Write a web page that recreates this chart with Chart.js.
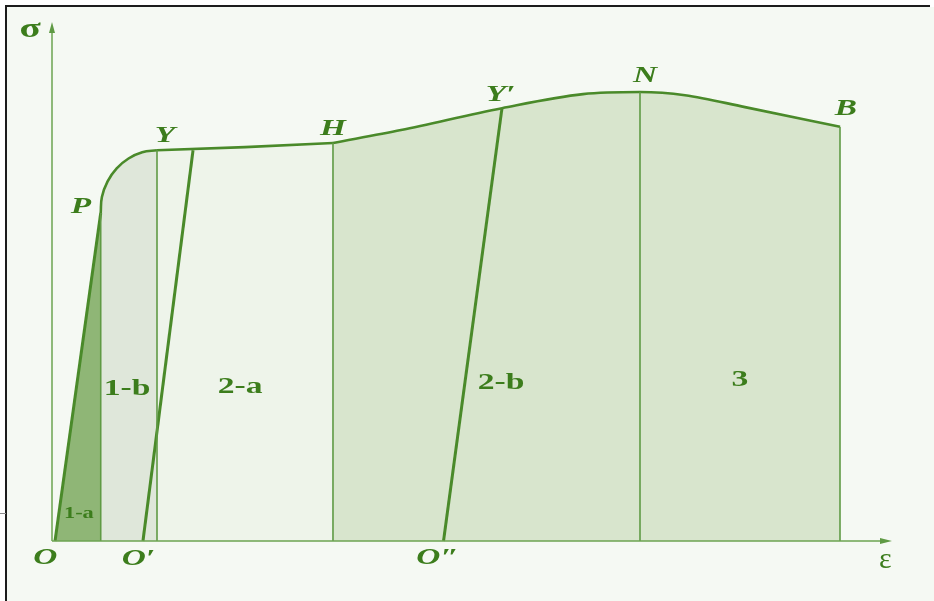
<!DOCTYPE html>
<html>
<head>
<meta charset="utf-8">
<script src="https://cdn.jsdelivr.net/npm/chart.js@4.4.0/dist/chart.umd.min.js"></script>
<style>
  html, body { margin: 0; padding: 0; background: #fff; }
  #wrap { width: 934px; height: 601px; }
</style>
</head>
<body>
<div id="wrap"><canvas id="chart" width="934" height="601"></canvas></div>
<script>
// Stress–strain diagram (σ vs ε), arbitrary units: ε 0..100, σ 0..100

// elastic part O → P
const elasticEps = [0.36, 5.8];
const elasticSig = [0, 63.2];
// P → Y (yielding knee)
const kneeEps = [5.8, 5.94, 6.62, 7.7, 9.11, 10.74, 12.5];
const kneeSig = [63.2, 66.3, 69.3, 71.8, 73.7, 74.9, 75.3];
// Y → H (plateau)
const plateauEps = [12.5, 22.98, 33.45];
const plateauSig = [75.3, 75.9, 76.7];
// H → Y' → N → B (hardening + necking)
const hardenEps = [33.45, 41.55, 53.57, 63.21, 70.0, 75.36, 82.5, 93.81];
const hardenSig = [76.7, 79.2, 83.4, 86.1, 86.5, 85.9, 83.6, 79.8];
// unloading lines O' and O''
const unload1Eps = [10.83, 16.79];
const unload1Sig = [0, 75.3];
const unload2Eps = [46.61, 53.57];
const unload2Sig = [0, 83.4];
// vertical separators at P, Y, H, N, B
const dividerEps = [5.8, 12.5, 33.45, 70.0, 93.81];
const dividerSig = [63.2, 75.3, 76.7, 86.5, 79.8];

const GREEN = '#4a8a2a';
const TEXT = '#3c7d1c';

const pts = (xs, ys) => xs.map((x, i) => ({ x, y: ys[i] }));

// [text, ε, σ, kind]
const labels = [
  ['σ', -2.6, 98.6, 'sym'],
  ['ε', 99.2, -3.7, 'eps'],
  ['O', -0.8, -3.3, 'pt'],
  ["O\u2032", 10.3, -3.4, 'pt'],
  ["O\u2033", 45.9, -3.3, 'pt'],
  ['P', 3.45, 64.4, 'pt'],
  ['Y', 13.45, 78.0, 'pt'],
  ['H', 33.45, 79.4, 'pt'],
  ["Y\u2032", 53.4, 85.9, 'pt'],
  ['N', 70.6, 89.6, 'pt'],
  ['B', 94.5, 83.2, 'pt'],
  ['1-a', 3.2, 5.2, 'small'],
  ['1-b', 8.93, 29.3, 'zone'],
  ['2-a', 22.4, 29.7, 'zone'],
  ['2-b', 53.45, 30.4, 'zone'],
  ['3', 81.9, 31.0, 'zone'],
];

const fonts = {
  sym:   { font: 'bold 28px "Liberation Serif"', sx: 1.4 },
  eps:   { font: '30px "Liberation Serif"', sx: 1.0 },
  pt:    { font: 'italic bold 23px "Liberation Serif"', sx: 1.45 },
  small: { font: 'bold 16px "Liberation Serif"', sx: 1.4 },
  zone:  { font: 'bold 24px "Liberation Serif"', sx: 1.4 },
};

const framePlugin = {
  id: 'frame',
  beforeDraw(chart) {
    const c = chart.ctx;
    c.save();
    c.fillStyle = '#ffffff';
    c.fillRect(0, 0, chart.width, chart.height);
    c.fillStyle = '#f5f9f3';
    c.fillRect(7, 7, chart.width - 7, chart.height - 7);
    c.strokeStyle = '#1c1c1c';
    c.lineWidth = 2;
    c.beginPath();
    c.moveTo(6, chart.height);
    c.lineTo(6, 6);
    c.lineTo(930, 6);
    c.stroke();
    c.strokeStyle = '#8a8a8a';
    c.lineWidth = 1;
    c.beginPath();
    c.moveTo(0, 513.5);
    c.lineTo(6, 513.5);
    c.stroke();
    c.restore();
  },
};

const axisPlugin = {
  id: 'axes',
  afterDatasetsDraw(chart) {
    const c = chart.ctx, xs = chart.scales.x, ys = chart.scales.y;
    const x0 = xs.getPixelForValue(0), y0 = ys.getPixelForValue(0);
    const xEnd = xs.getPixelForValue(100), yEnd = ys.getPixelForValue(100);
    c.save();
    c.strokeStyle = '#6ca452';
    c.fillStyle = '#5f9a44';
    c.lineWidth = 1.5;
    c.beginPath();
    c.moveTo(x0, y0);
    c.lineTo(xEnd - 4, y0);
    c.moveTo(x0, y0);
    c.lineTo(x0, yEnd + 6);
    c.stroke();
    // arrow heads
    c.beginPath();
    c.moveTo(xEnd, y0);
    c.lineTo(xEnd - 12, y0 - 3);
    c.lineTo(xEnd - 12, y0 + 3);
    c.closePath();
    c.fill();
    c.beginPath();
    c.moveTo(x0, yEnd);
    c.lineTo(x0 - 3, yEnd + 11);
    c.lineTo(x0 + 3, yEnd + 11);
    c.closePath();
    c.fill();
    c.restore();
  },
};

const labelPlugin = {
  id: 'labels',
  afterDraw(chart) {
    const c = chart.ctx, xs = chart.scales.x, ys = chart.scales.y;
    c.save();
    c.textAlign = 'center';
    c.textBaseline = 'middle';
    c.fillStyle = TEXT;
    labels.forEach(([t, e, s, kind]) => {
      const f = fonts[kind];
      c.save();
      c.translate(xs.getPixelForValue(e), ys.getPixelForValue(s));
      c.scale(f.sx, 1);
      c.font = f.font;
      c.fillText(t, 0, 0);
      c.restore();
    });
    c.restore();
  },
};

const fillSet = (xs, ys, color, tension, mode) => ({
  data: pts(xs, ys),
  fill: 'origin',
  backgroundColor: color,
  borderWidth: 0,
  pointRadius: 0,
  cubicInterpolationMode: mode || 'default',
  tension: tension || 0,
  order: 10,
  clip: false,
});

const lineSet = (xs, ys, width, color, tension, mode) => ({
  data: pts(xs, ys),
  fill: false,
  borderColor: color,
  borderWidth: width,
  pointRadius: 0,
  cubicInterpolationMode: mode || 'default',
  tension: tension || 0,
  order: 1,
  clip: false,
});

const datasets = [
  // zone fills
  fillSet([...elasticEps, elasticEps[1]], [...elasticSig, 0], '#8fb676'),
  fillSet(kneeEps, kneeSig, '#dfe7da', 0.4),
  fillSet(plateauEps, plateauSig, '#eef4ea'),
  fillSet(hardenEps, hardenSig, '#d8e5cd', 0, 'monotone'),
  // separators
  ...dividerEps.map((e, i) => lineSet([e, e], [0, dividerSig[i]], 1.6, '#5f9a44')),
  // curve and unloading lines
  lineSet(elasticEps, elasticSig, 3, GREEN),
  lineSet(kneeEps, kneeSig, 2.6, GREEN, 0.4),
  lineSet(plateauEps, plateauSig, 2.6, GREEN),
  lineSet(hardenEps, hardenSig, 2.6, GREEN, 0, 'monotone'),
  lineSet(unload1Eps, unload1Sig, 3, GREEN),
  lineSet(unload2Eps, unload2Sig, 3, GREEN),
];

new Chart(document.getElementById('chart'), {
  type: 'line',
  data: { datasets },
  options: {
    responsive: false,
    animation: false,
    devicePixelRatio: 1,
    layout: { padding: { left: 52, right: 42, top: 22, bottom: 60 } },
    scales: {
      x: { type: 'linear', min: 0, max: 100, display: false },
      y: { type: 'linear', min: 0, max: 100, display: false },
    },
    plugins: { legend: { display: false }, tooltip: { enabled: false } },
    elements: { point: { radius: 0 } },
  },
  plugins: [framePlugin, axisPlugin, labelPlugin],
});
</script>
</body>
</html>
